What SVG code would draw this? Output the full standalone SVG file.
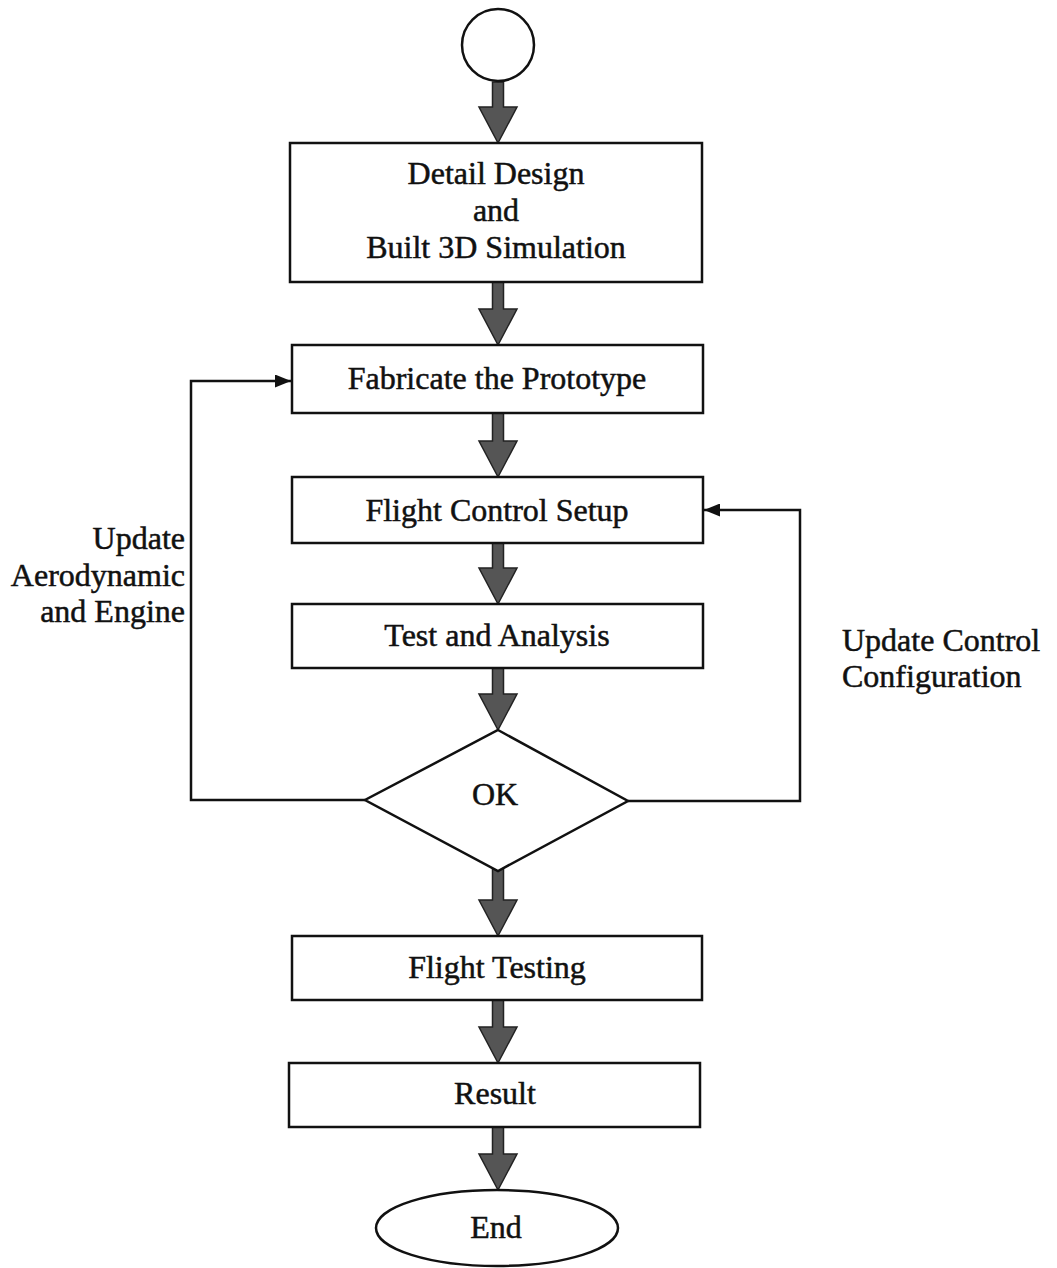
<svg xmlns="http://www.w3.org/2000/svg" width="1057" height="1268" viewBox="0 0 1057 1268">
<style>
.box{fill:#fff;stroke:#111;stroke-width:2.5}
.t{font-family:"Liberation Serif","Times New Roman",serif;font-size:32px;fill:#111;stroke:#111;stroke-width:0.5;text-anchor:middle}
.l{font-family:"Liberation Serif","Times New Roman",serif;font-size:32px;fill:#111;stroke:#111;stroke-width:0.5}
.ba{fill:#555;stroke:#222;stroke-width:1.5;stroke-linejoin:miter}
.ln{fill:none;stroke:#111;stroke-width:2.5}
</style>
<defs>
<marker id="ah" viewBox="0 0 10 10" refX="10" refY="5" markerWidth="16" markerHeight="13" markerUnits="userSpaceOnUse" orient="auto" preserveAspectRatio="none">
<path d="M0,0 L10,5 L0,10 z" fill="#111"/>
</marker>
</defs>
<rect width="1057" height="1268" fill="#fff"/>
<g id="connectors">
<path class="ba" d="M492.5,82 L503.5,82 L503.5,107 L517,107 L498,143 L479,107 L492.5,107 Z"/>
<path class="ba" d="M492.5,282 L503.5,282 L503.5,309 L517,309 L498,345 L479,309 L492.5,309 Z"/>
<path class="ba" d="M492.5,413 L503.5,413 L503.5,441 L517,441 L498,477 L479,441 L492.5,441 Z"/>
<path class="ba" d="M492.5,543 L503.5,543 L503.5,568 L517,568 L498,604 L479,568 L492.5,568 Z"/>
<path class="ba" d="M492.5,668 L503.5,668 L503.5,694 L517,694 L498,730 L479,694 L492.5,694 Z"/>
<path class="ba" d="M492.5,866 L503.5,866 L503.5,900 L517,900 L498,936 L479,900 L492.5,900 Z"/>
<path class="ba" d="M492.5,1000 L503.5,1000 L503.5,1027 L517,1027 L498,1063 L479,1027 L492.5,1027 Z"/>
<path class="ba" d="M492.5,1127 L503.5,1127 L503.5,1154 L517,1154 L498,1190 L479,1154 L492.5,1154 Z"/>
<path class="ln" d="M365,800 L191,800 L191,381 L291,381" marker-end="url(#ah)"/>
<path class="ln" d="M628,801 L800,801 L800,510 L704,510" marker-end="url(#ah)"/>
</g>
<g id="start"><circle cx="498" cy="45" r="36" class="box"/></g>
<g id="detail">
<rect x="290" y="143" width="412" height="139" class="box"/>
<text class="t" x="496" y="184">Detail Design</text>
<text class="t" x="496" y="221">and</text>
<text class="t" x="496" y="258">Built 3D Simulation</text>
</g>
<g id="fabricate">
<rect x="292" y="345" width="411" height="68" class="box"/>
<text class="t" x="497" y="389">Fabricate the Prototype</text>
</g>
<g id="setup">
<rect x="292" y="477" width="411" height="66" class="box"/>
<text class="t" x="497" y="521">Flight Control Setup</text>
</g>
<g id="test">
<rect x="292" y="604" width="411" height="64" class="box"/>
<text class="t" x="497" y="646">Test and Analysis</text>
</g>
<g id="ok">
<polygon points="498,730 628,801 498,871 365,800" class="box"/>
<text class="t" x="495" y="805">OK</text>
</g>
<g id="flighttesting">
<rect x="292" y="936" width="410" height="64" class="box"/>
<text class="t" x="497" y="978">Flight Testing</text>
</g>
<g id="result">
<rect x="289" y="1063" width="411" height="64" class="box"/>
<text class="t" x="495" y="1104">Result</text>
</g>
<g id="end">
<ellipse cx="497" cy="1228" rx="121" ry="38" class="box"/>
<text class="t" x="496" y="1238">End</text>
</g>
<g id="labels">
<text class="l" x="185" y="549" text-anchor="end">Update</text>
<text class="l" x="185" y="586" text-anchor="end">Aerodynamic</text>
<text class="l" x="185" y="622" text-anchor="end">and Engine</text>
<text class="l" x="842" y="651">Update Control</text>
<text class="l" x="842" y="687">Configuration</text>
</g>
</svg>
